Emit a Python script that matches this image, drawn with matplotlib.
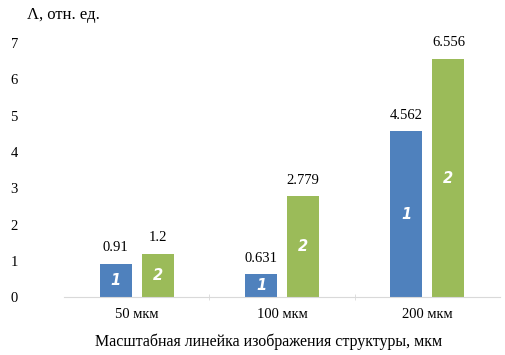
import matplotlib.pyplot as plt
import numpy as np

# данные
categories = ['50 мкм', '100 мкм', '200 мкм']
series1 = [0.91, 0.631, 4.562]
series2 = [1.2, 2.779, 6.556]
labels1 = ['0.91', '0.631', '4.562']
labels2 = ['1.2', '2.779', '6.556']

plt.rcParams['font.family'] = ['Liberation Serif', 'DejaVu Serif']

fig = plt.figure(figsize=(5.05, 3.55), dpi=100)
ax = fig.add_axes([0.127, 0.163, 0.863, 0.716])

x = np.arange(len(categories))
w = 0.22
off = 0.145
b1 = ax.bar(x - off, series1, w, color='#4F81BD')
b2 = ax.bar(x + off, series2, w, color='#9BBB59')

for bars, labs, num in ((b1, labels1, '1'), (b2, labels2, '2')):
    for r, lab in zip(bars, labs):
        cx = r.get_x() + r.get_width() / 2
        h = r.get_height()
        ax.annotate(lab, (cx, h), xytext=(0, 7), textcoords='offset points',
                    ha='center', va='bottom', fontsize=10.5)
        ax.text(cx, h / 2, num, ha='center', va='center', color='white',
                fontsize=10.5, fontweight='bold', style='italic',
                family='DejaVu Sans')

ax.set_ylim(0, 7)
ax.set_xlim(-0.5, 2.5)
ax.set_yticks(range(8))
ax.set_xticks(x)
ax.set_xticklabels(categories, fontsize=10.5)
ax.set_xticks([0.5, 1.5], minor=True)
ax.tick_params(axis='y', length=0, pad=36, labelsize=10.5)
ax.tick_params(axis='x', which='major', length=0, pad=8)
ax.tick_params(axis='x', which='minor', length=4, color='#D9D9D9', direction='inout')
for s in ['top', 'right', 'left']:
    ax.spines[s].set_visible(False)
ax.spines['bottom'].set_color('#D9D9D9')
for t in ax.get_yticklabels():
    t.set_horizontalalignment('center')

ax.set_xlabel('Масштабная линейка изображения структуры, мкм', fontsize=11.5)
ax.xaxis.set_label_coords(0.468, -0.145)
fig.text(0.053, 0.958, 'Λ, отн. ед.', fontsize=12, ha='left', va='center')

plt.savefig('out.png', dpi=100)
